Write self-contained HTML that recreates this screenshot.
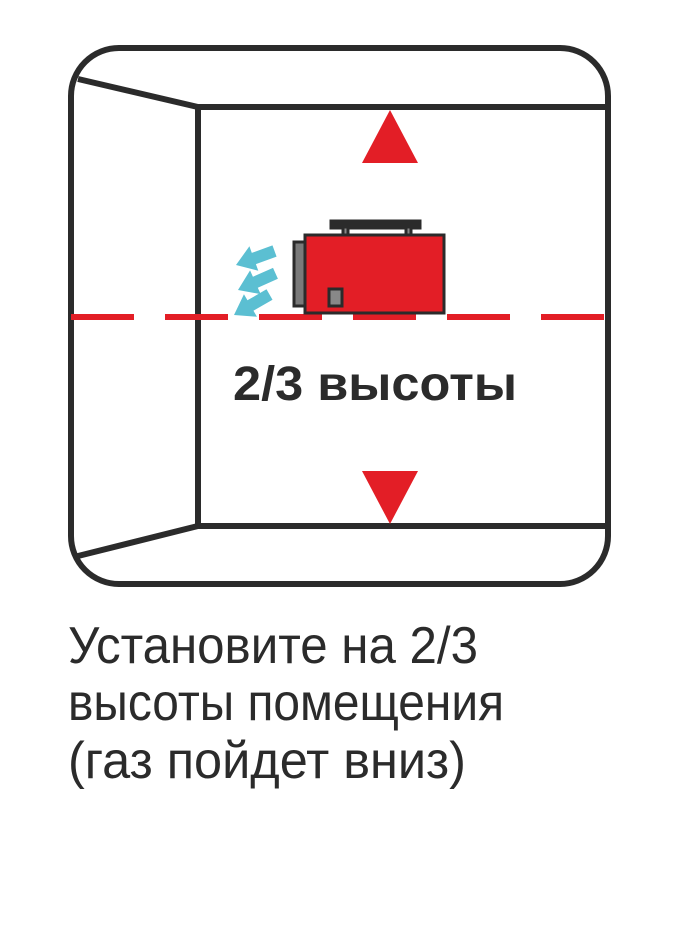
<!DOCTYPE html>
<html><head><meta charset="utf-8"><style>html,body{margin:0;padding:0;background:#fff}svg{display:block}</style></head>
<body>
<svg width="680" height="939" viewBox="0 0 680 939" xmlns="http://www.w3.org/2000/svg">
<rect x="0" y="0" width="680" height="939" fill="#fff"/>
<g fill="none" stroke="#2b2b2b" stroke-width="6" stroke-linejoin="miter">
<rect x="71" y="48" width="537" height="536" rx="48" ry="48"/>
<polyline points="78,79 198,107 608,107"/>
<line x1="198" y1="107" x2="198" y2="527"/>
<polyline points="78,556 198,526 608,526"/>
</g>
<polygon points="390,110 362,163 418,163" fill="#e31e26"/>
<polygon points="362,471 418,471 390,524" fill="#e31e26"/>
<line x1="71" y1="317" x2="606" y2="317" stroke="#e31e26" stroke-width="6" stroke-dasharray="63 31"/>
<g stroke="#2b2b2b" stroke-width="3">
<rect x="331" y="221" width="89" height="7" fill="#2b2b2b"/>
<rect x="343" y="227" width="5" height="8" fill="#888"/>
<rect x="406" y="227" width="5" height="8" fill="#888"/>
<rect x="294" y="242" width="11" height="64" fill="#7a7a7a"/>
<rect x="305" y="235" width="139" height="78" fill="#e31e26"/>
<rect x="329" y="289" width="13" height="17" fill="#888"/>
</g>
<g fill="#5bbfd2">
<polygon points="0,-6 22,-6 22,-13 41,0 22,13 22,6 0,6" transform="translate(236,265) rotate(160) translate(-41,0)"/>
<polygon points="0,-6 22,-6 22,-13 41,0 22,13 22,6 0,6" transform="translate(238,290) rotate(156) translate(-41,0)"/>
<polygon points="0,-6 22,-6 22,-13 41,0 22,13 22,6 0,6" transform="translate(234,315) rotate(150) translate(-41,0)"/>
</g>
<text x="233" y="400" font-family="Liberation Sans, sans-serif" font-weight="bold" font-size="48" fill="#2b2b2b" textLength="284" lengthAdjust="spacingAndGlyphs">2/3 высоты</text>
<g font-family="Liberation Sans, sans-serif" font-size="52" fill="#2b2b2b">
<text x="68" y="663" textLength="410" lengthAdjust="spacingAndGlyphs">Установите на 2/3</text>
<text x="68" y="720" textLength="436" lengthAdjust="spacingAndGlyphs">высоты помещения</text>
<text x="68" y="778" textLength="398" lengthAdjust="spacingAndGlyphs">(газ пойдет вниз)</text>
</g>
</svg>
</body></html>
